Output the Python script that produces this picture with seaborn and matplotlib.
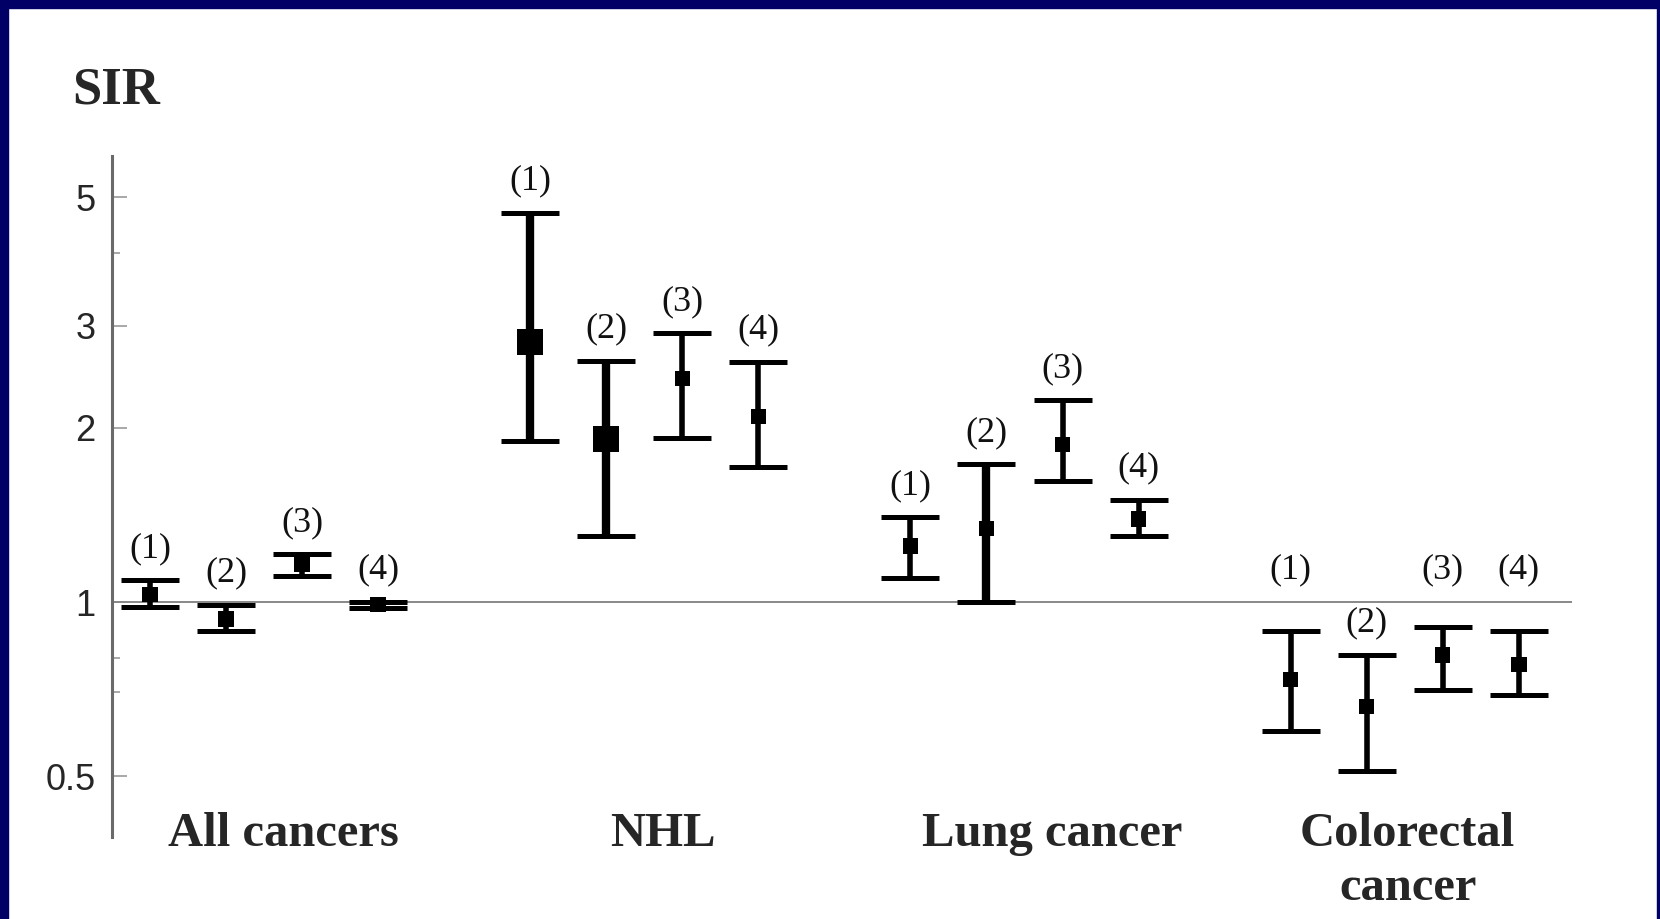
import matplotlib
matplotlib.use("Agg")
import matplotlib.pyplot as plt
from matplotlib.patches import Rectangle
from matplotlib.ticker import NullFormatter
import seaborn as sns
import pandas as pd

cancers = ["All cancers", "NHL", "Lung cancer", "Colorectal\ncancer"]
periods = ["(1)", "(2)", "(3)", "(4)"]
sir = [[1.03, 0.935, 1.16, 0.99],
       [2.81, 1.91, 2.43, 2.09],
       [1.25, 1.34, 1.87, 1.39],
       [0.735, 0.66, 0.81, 0.78]]
sir_lo = [[0.98, 0.89, 1.11, 0.975],
          [1.90, 1.30, 1.92, 1.71],
          [1.10, 1.00, 1.62, 1.30],
          [0.60, 0.51, 0.705, 0.69]]
sir_hi = [[1.09, 0.99, 1.21, 1.00],
          [4.70, 2.61, 2.91, 2.60],
          [1.40, 1.73, 2.23, 1.50],
          [0.89, 0.81, 0.905, 0.89]]
yticks = [0.5, 1, 2, 3, 5]
ytick_labels = ["0.5", "1", "2", "3", "5"]

rows = []
for g, cancer in enumerate(cancers):
    for j, per in enumerate(periods):
        rows.append({"cancer": cancer, "period": per, "x": g * 5 + j,
                     "sir": sir[g][j], "lo": sir_lo[g][j], "hi": sir_hi[g][j]})
df = pd.DataFrame(rows)

sns.set_theme(style="white")
plt.rcParams["font.family"] = ["Liberation Serif", "DejaVu Serif"]

fig = plt.figure(figsize=(16.6, 9.19), dpi=100)
ax = fig.add_axes([112 / 1660, 1 - 837 / 919, 1460 / 1660, 681 / 919])

ax.axhline(1, color="#888888", lw=1.4, zorder=1)

# NHL (1), (2) and lung (2) are drawn heavier in the original
heavy = (((df["cancer"] == "NHL") & df["period"].isin(["(1)", "(2)"]))
         | ((df["cancer"] == "Lung cancer") & (df["period"] == "(2)")))
for is_heavy, part in df.groupby(heavy):
    ax.errorbar(part["x"], part["sir"], yerr=[part["sir"] - part["lo"], part["hi"] - part["sir"]],
                fmt="none", ecolor="black", elinewidth=6.0 if is_heavy else 4.0,
                capsize=21, capthick=3.6, zorder=2)

big = (df["cancer"] == "NHL") & df["period"].isin(["(1)", "(2)"])
sizes = [340 if b else 125 for b in big]
sns.scatterplot(data=df, x="x", y="sir", marker="s", s=sizes, color="black",
                linewidth=0, legend=False, ax=ax, zorder=3)

# period labels above each bar; some colorectal ones sit above the reference line
for _, r in df.iterrows():
    anchor = r["hi"]
    if r["cancer"].startswith("Colorectal") and r["period"] != "(2)":
        anchor = max(anchor, 1.0)
    ax.annotate(r["period"], (r["x"], anchor), xytext=(0, 11), textcoords="offset points",
                ha="center", va="bottom", fontsize=26, color="#111111")

# category names under the groups, one baseline per line
label_x = [1.75, 6.74, 11.86, 16.54]
for lx, name in zip(label_x, cancers):
    for i, line in enumerate(name.split("\n")):
        ax.annotate(line, (lx, -0.0135), xycoords=ax.get_xaxis_transform(),
                    xytext=(0, -39 * i), textcoords="offset points",
                    ha="center", va="baseline", fontsize=35, fontweight="bold",
                    annotation_clip=False)

ax.set_yscale("log")
ax.set_ylim(0.393, 5.89)
ax.set_xlim(-0.5, 18.7)
ax.set_yticks(yticks)
ax.set_yticklabels(ytick_labels, fontfamily="Liberation Sans", fontsize=26)
ax.set_yticks([0.7, 0.8, 4], minor=True)
ax.yaxis.set_minor_formatter(NullFormatter())
ax.tick_params(axis="y", which="major", direction="in", length=11, width=1.2,
               color="#999999", pad=12, left=True)
ax.tick_params(axis="y", which="minor", direction="in", length=6, width=1.2,
               color="#999999", left=True)
ax.set_xticks([])
ax.set_xlabel("")
ax.set_ylabel("")
for s in ["top", "right", "bottom"]:
    ax.spines[s].set_visible(False)
ax.spines["left"].set_color("#6a6a6a")
ax.spines["left"].set_linewidth(2.2)

fig.text(72 / 1660, 1 - 90 / 919, "SIR", ha="left", va="center", fontsize=38, fontweight="bold")

navy = "#000066"
fig.patches.extend([
    Rectangle((0, 0), 8 / 1660, 1, transform=fig.transFigure, color=navy, zorder=10),
    Rectangle((0, 1 - 8 / 919), 1, 8 / 919, transform=fig.transFigure, color=navy, zorder=10),
    Rectangle((1 - 3 / 1660, 0), 3 / 1660, 1, transform=fig.transFigure, color=navy, zorder=10),
])

fig.savefig("out.png", dpi=100, facecolor="white")
